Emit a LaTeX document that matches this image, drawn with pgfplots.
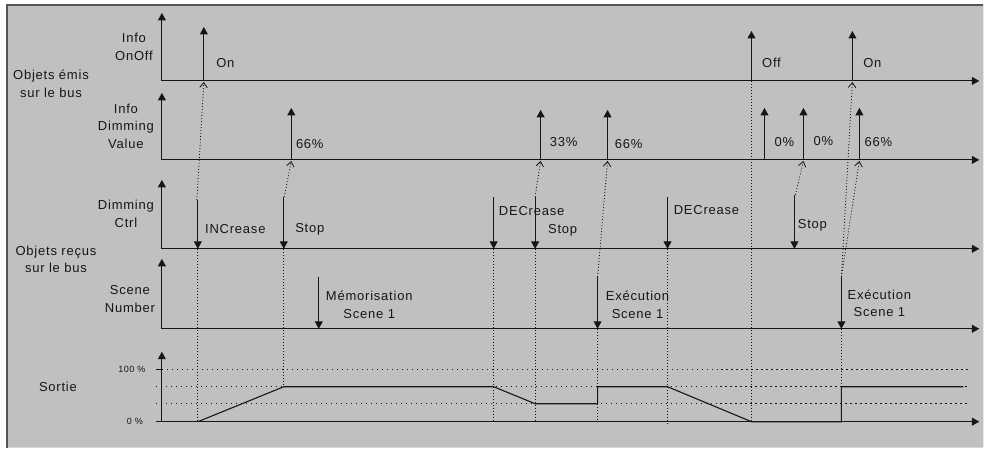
\documentclass[border=0pt]{standalone}
\usepackage{pgfplots}
\pgfplotsset{compat=1.18}
\usepackage{fontspec}
\setmainfont{Liberation Sans}[LetterSpace=6]
\usetikzlibrary{arrows.meta}

\definecolor{fond}{RGB}{192,192,192}
\definecolor{trait}{RGB}{22,22,22}
\definecolor{cadre}{RGB}{85,85,85}

\begin{document}
\begin{tikzpicture}[
  fl/.style={trait, line width=1pt, -{Triangle[length=7.5pt,width=8pt]}},
  lien/.style={trait, line width=0.8pt, dash pattern=on 1pt off 2pt,
    -{Straight Barb[length=5pt,width=7.5pt,line width=0.8pt]}},
  pointille/.style={trait, line width=0.8pt, dash pattern=on 1pt off 2pt},
  niveau/.style={trait, line width=0.8pt, dash pattern=on 1.5pt off 3.5pt},
  lab/.style={font=\fontsize{13}{17.5}\selectfont, text=trait, align=center, inner sep=0pt},
  petit/.style={font=\fontsize{9}{11}\selectfont, text=trait, inner sep=0pt},
]
\begin{axis}[
  width=984pt, height=448pt, scale only axis,
  xmin=0, xmax=984, ymin=0, ymax=448, y dir=reverse,
  hide axis, clip=false,
]
% fond et cadre
\addplot[draw=none] coordinates {(0,0) (984,448)};
\addplot[fill=fond, draw=none] coordinates {(7,5) (984,5) (984,448) (7,448) (7,5)};
\addplot[cadre, line width=1.4pt] coordinates {(7,448) (7,5) (984,5)};

% axes des 5 lignes
\addplot[fl] coordinates {(162,81) (162,13)};
\addplot[fl] coordinates {(162,81) (980,81)};
\addplot[fl] coordinates {(162,160) (162,93)};
\addplot[fl] coordinates {(162,160) (980,160)};
\addplot[fl] coordinates {(162,249) (162,180)};
\addplot[fl] coordinates {(162,249) (980,249)};
\addplot[fl] coordinates {(162,329) (162,259)};
\addplot[fl] coordinates {(162,329) (980,329)};
\addplot[fl] coordinates {(162,422) (162,352)};
\addplot[fl] coordinates {(156,422) (980,422)};
\addplot[trait, line width=1pt] coordinates {(156,370) (162,370)};

% Info OnOff
\addplot[fl] coordinates {(204,81) (204,27)};
\addplot[fl] coordinates {(752,81) (752,31)};
\addplot[fl] coordinates {(853,81) (853,31)};

% Info Dimming Value
\addplot[fl] coordinates {(291.5,160) (291.5,108)};
\addplot[fl] coordinates {(541,160) (541,110)};
\addplot[fl] coordinates {(608,160) (608,110)};
\addplot[fl] coordinates {(765,160) (765,108)};
\addplot[fl] coordinates {(804,160) (804,108)};
\addplot[fl] coordinates {(860,160) (860,108)};

% Dimming Ctrl
\addplot[fl] coordinates {(198,200) (198,249)};
\addplot[fl] coordinates {(284,197) (284,249)};
\addplot[fl] coordinates {(494,197) (494,249)};
\addplot[fl] coordinates {(535.5,197) (535.5,249)};
\addplot[fl] coordinates {(668,197) (668,249)};
\addplot[fl] coordinates {(795,195) (795,249)};

% Scene Number
\addplot[fl] coordinates {(319,277) (319,329)};
\addplot[fl] coordinates {(598,277) (598,329)};
\addplot[fl] coordinates {(842,277) (842,329)};

% liens pointilles entre objets
\addplot[lien] coordinates {(197,200) (204,82)};
\addplot[lien] coordinates {(284.5,197) (291.5,161)};
\addplot[lien] coordinates {(535.5,197) (541,161)};
\addplot[lien] coordinates {(598,277) (608,161)};
\addplot[lien] coordinates {(796,195) (804,161)};
\addplot[lien] coordinates {(842,277) (853,82)};
\addplot[lien] coordinates {(842,277) (860,161)};

% verticales pointillees vers la sortie
\addplot[pointille] coordinates {(198,249) (198,422)};
\addplot[pointille] coordinates {(284,249) (284,387)};
\addplot[pointille] coordinates {(494,249) (494,422)};
\addplot[pointille] coordinates {(535.5,249) (535.5,422)};
\addplot[pointille] coordinates {(598,329) (598,422)};
\addplot[pointille] coordinates {(668,249) (668,425)};
\addplot[pointille] coordinates {(752,81) (752,422)};
\addplot[pointille] coordinates {(842,329) (842,422)};

% niveaux 100 %, 66 %, 33 %
\addplot[niveau] coordinates {(162,370) (971,370)};
\addplot[niveau] coordinates {(156,387) (971,387)};
\addplot[niveau] coordinates {(156,404) (971,404)};

% Sortie
\addplot[trait, line width=1.1pt] coordinates {
  (198,422) (284,387) (494,387) (535.5,404) (598,404) (598,387)
  (668,387) (752,422) (842,422) (842,387) (964,387)};

% textes de gauche
\node[lab] at (134,47) {Info\\OnOff};
\node[lab] at (51,84) {Objets émis\\sur le bus};
\node[lab] at (126,126) {Info\\Dimming\\Value};
\node[lab] at (126,214) {Dimming\\Ctrl};
\node[lab] at (56,259.5) {Objets reçus\\sur le bus};
\node[lab] at (130,299) {Scene\\Number};
\node[lab] at (58,387) {Sortie};
\node[petit] at (132,370) {100 \%};
\node[petit] at (135,422) {0 \%};

% textes des evenements
\node[lab] at (225.5,63) {On};
\node[lab] at (772,63) {Off};
\node[lab] at (873,63) {On};
\node[lab] at (310,144) {66\%};
\node[lab] at (564,142) {33\%};
\node[lab] at (629,144) {66\%};
\node[lab] at (785,142) {0\%};
\node[lab] at (824,141) {0\%};
\node[lab] at (879,142) {66\%};
\node[lab] at (235.5,229) {INCrease};
\node[lab] at (310,229) {Stop};
\node[lab] at (532,211) {DECrease};
\node[lab] at (563,230) {Stop};
\node[lab] at (707,210) {DECrease};
\node[lab] at (813,225) {Stop};
\node[lab] at (369.5,305) {Mémorisation\\Scene 1};
\node[lab] at (638,305) {Exécution\\Scene 1};
\node[lab] at (880,303.5) {Exécution\\Scene 1};
\end{axis}
\end{tikzpicture}
\end{document}
